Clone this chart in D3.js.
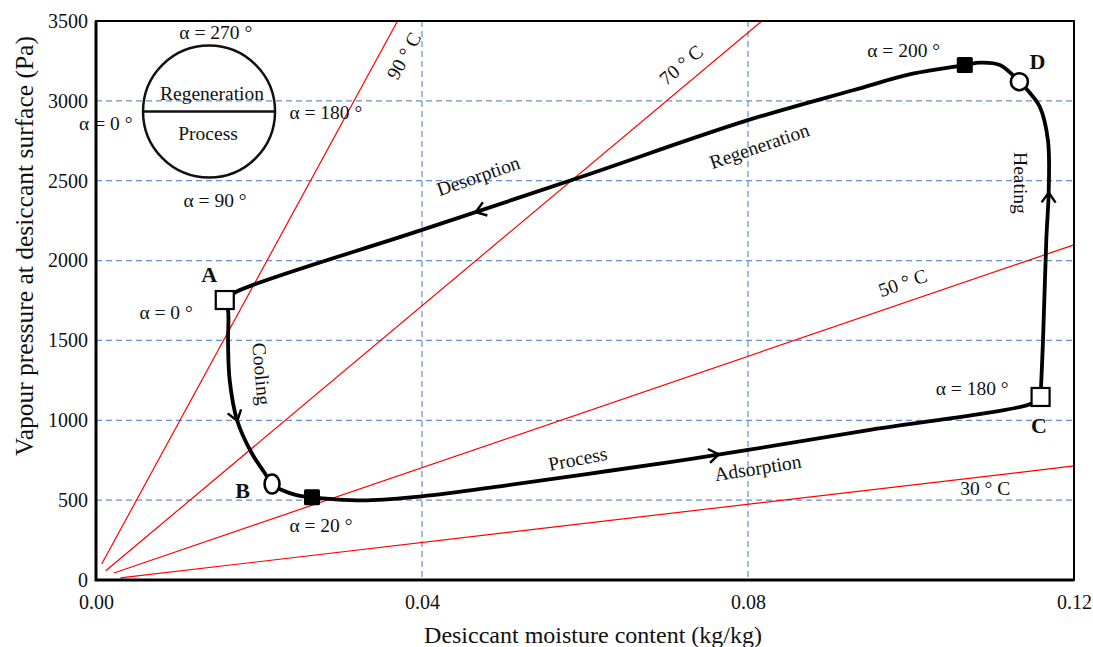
<!DOCTYPE html>
<html>
<head>
<meta charset="utf-8">
<script src="https://cdn.jsdelivr.net/npm/d3@7"></script>
<style>
    body { margin: 0; background: #fff; }
    text { font-family: "Liberation Serif", "Times New Roman", serif; fill: #111; }
</style>
</head>
<body>
<svg id="chart" width="1093" height="647"></svg>
<script>
// axis ticks
const xTicks = [0, 0.04, 0.08, 0.12];
const yTicks = [0, 500, 1000, 1500, 2000, 2500, 3000, 3500];

// isotherm lines [moisture, pressure]
const iso90 = [[0.0007, 100], [0.0370, 3500]];
const iso70 = [[0.0012, 58], [0.0817, 3500]];
const iso50 = [[0.0022, 44], [0.1199, 2097]];
const iso30 = [[0.0030, 13], [0.1200, 714]];

// cycle: A -> B -> C (cooling + process / adsorption)
const legProcess = [
    [0.0158, 1753], [0.0162, 1690], [0.0162, 1492], [0.0164, 1252], [0.0173, 1002],
    [0.0191, 795], [0.0207, 670], [0.0216, 601], [0.0228, 563], [0.0246, 532],
    [0.0265, 518], [0.0291, 506], [0.0332, 499], [0.0400, 524], [0.0500, 590],
    [0.0600, 662], [0.0700, 735], [0.0800, 814], [0.0946, 937], [0.1150, 1108],
    [0.1159, 1146]
];
// cycle: C -> D -> A (heating + regeneration / desorption)
const legRegen = [
    [0.1159, 1146], [0.1162, 1503], [0.1166, 2129], [0.1169, 2442], [0.1168, 2755],
    [0.1158, 2963], [0.1146, 3049], [0.1133, 3120], [0.1109, 3224], [0.1085, 3239],
    [0.1066, 3224], [0.1002, 3170], [0.0930, 3068], [0.0798, 2876], [0.0594, 2522],
    [0.0400, 2192], [0.0171, 1802], [0.0158, 1753]
];

const openSquares = [[0.0158, 1753], [0.1159, 1146]];   // A, C
const filledSquares = [[0.0265, 518], [0.1066, 3224]];
const openCircles = [[0.0216, 601], [0.1133, 3120]];    // B, D
const arrowsProcess = [[0.0173, 1002], [0.0763, 786]];
const arrowsRegen = [[0.1169, 2420], [0.0467, 2306]];

// annotation texts [text, x, y, rotation, bold]
const labels = [
    ["α = 270 °", 0.0147, 3425, 0, false],
    ["α = 0 °", 0.0012, 2861, 0, false],
    ["α = 180 °", 0.0282, 2924, 0, false],
    ["α = 90 °", 0.0146, 2379, 0, false],
    ["A", 0.0139, 1910, 0, true],
    ["α = 0 °", 0.0086, 1672, 0, false],
    ["Cooling", 0.0203, 1290, 85, false],
    ["B", 0.0180, 563, 0, true],
    ["α = 20 °", 0.0276, 344, 0, false],
    ["Process", 0.0591, 758, -11, false],
    ["Adsorption", 0.0812, 701, -9, false],
    ["α = 180 °", 0.1075, 1196, 0, false],
    ["C", 0.1157, 970, 0, true],
    ["30 ° C", 0.1091, 570, 0, false],
    ["50 ° C", 0.0990, 1860, -19, false],
    ["70 ° C", 0.0718, 3224, -40, false],
    ["90 ° C", 0.0378, 3281, -61, false],
    ["Desorption", 0.0469, 2529, -19, false],
    ["Regeneration", 0.0814, 2717, -19, false],
    ["α = 200 °", 0.0991, 3318, 0, false],
    ["D", 0.1155, 3249, 0, true],
    ["Heating", 0.1134, 2486, 90, false]
];

const svg = d3.select("#chart");
const margin = { left: 96, right: 1074, top: 21, bottom: 580 };

const x = d3.scaleLinear().domain([0, 0.12]).range([margin.left, margin.right]);
const y = d3.scaleLinear().domain([0, 3500]).range([margin.bottom, margin.top]);
const plotW = margin.right - margin.left, plotH = margin.bottom - margin.top;

svg.append("clipPath").attr("id", "plotClip")
    .append("rect")
    .attr("x", margin.left).attr("y", margin.top)
    .attr("width", plotW).attr("height", plotH);

// dashed grid
const gridColor = "#6890c8";
svg.append("g").selectAll("line")
    .data(yTicks.filter(d => d > 0 && d < 3500))
    .enter().append("line")
    .attr("x1", margin.left).attr("x2", margin.right)
    .attr("y1", d => y(d)).attr("y2", d => y(d))
    .style("stroke", gridColor)
    .style("stroke-width", 1.2)
    .style("stroke-dasharray", "6,4");

svg.append("g").selectAll("line")
    .data(xTicks.filter(d => d > 0 && d < 0.12))
    .enter().append("line")
    .attr("x1", d => x(d)).attr("x2", d => x(d))
    .attr("y1", margin.top).attr("y2", margin.bottom)
    .style("stroke", gridColor)
    .style("stroke-width", 1.2)
    .style("stroke-dasharray", "6,4");

// isotherms
const line = d3.line().x(d => x(d[0])).y(d => y(d[1]));
svg.append("g").attr("clip-path", "url(#plotClip)")
    .selectAll("path")
    .data([iso90, iso70, iso50, iso30])
    .enter().append("path")
    .attr("d", line)
    .style("fill", "none")
    .style("stroke", "#ff0000")
    .style("stroke-width", 1.2);

// circle diagram (upper left)
const cx = x(0.01387), cy = y(2933), cr = 66;
svg.append("circle")
    .attr("cx", cx).attr("cy", cy).attr("r", cr)
    .style("fill", "none").style("stroke", "#111").style("stroke-width", 2.5);
svg.append("line")
    .attr("x1", cx - cr).attr("x2", cx + cr)
    .attr("y1", cy).attr("y2", cy)
    .style("stroke", "#111").style("stroke-width", 2.5);
svg.append("text").attr("x", cx + 3).attr("y", cy - 18)
    .attr("text-anchor", "middle").attr("dominant-baseline", "central")
    .style("font-size", "19.5px").text("Regeneration");
svg.append("text").attr("x", cx - 1).attr("y", cy + 22)
    .attr("text-anchor", "middle").attr("dominant-baseline", "central")
    .style("font-size", "19.5px").text("Process");

// cycle legs
const curve = d3.line().x(d => x(d[0])).y(d => y(d[1])).curve(d3.curveCatmullRom.alpha(0.5));
svg.append("g").selectAll("path")
    .data([legProcess, legRegen])
    .enter().append("path")
    .attr("d", curve)
    .style("fill", "none")
    .style("stroke", "#000")
    .style("stroke-width", 3.8)
    .style("stroke-linejoin", "round");

// chevron arrows, direction taken from the leg they sit on
function arrowAngle(leg, p) {
    let best = 0, bd = Infinity;
    leg.forEach((q, i) => {
        const dd = Math.hypot(x(q[0]) - x(p[0]), y(q[1]) - y(p[1]));
        if (dd < bd) { bd = dd; best = i; }
    });
    const a = leg[Math.max(0, best - 1)], b = leg[Math.min(leg.length - 1, best + 1)];
    return Math.atan2(y(b[1]) - y(a[1]), x(b[0]) - x(a[0])) * 180 / Math.PI;
}
const arrowData = arrowsProcess.map(p => [p, arrowAngle(legProcess, p)])
    .concat(arrowsRegen.map(p => [p, arrowAngle(legRegen, p)]));
svg.append("g").selectAll("path")
    .data(arrowData)
    .enter().append("path")
    .attr("transform", d => `translate(${x(d[0][0])},${y(d[0][1])}) rotate(${d[1]})`)
    .attr("d", "M-9,-7 L1,0 L-9,7")
    .style("fill", "none")
    .style("stroke", "#000")
    .style("stroke-width", 2.4);

// state markers
svg.append("g").selectAll("rect")
    .data(openSquares)
    .enter().append("rect")
    .attr("x", d => x(d[0]) - 9).attr("y", d => y(d[1]) - 9)
    .attr("width", 18).attr("height", 18)
    .style("fill", "#fff").style("stroke", "#000").style("stroke-width", 2.2);

svg.append("g").selectAll("rect")
    .data(filledSquares)
    .enter().append("rect")
    .attr("x", d => x(d[0]) - 8).attr("y", d => y(d[1]) - 8)
    .attr("width", 16).attr("height", 16).attr("rx", 1.5)
    .style("fill", "#000");

svg.append("g").selectAll("ellipse")
    .data(openCircles)
    .enter().append("ellipse")
    .attr("cx", d => x(d[0])).attr("cy", d => y(d[1]))
    .attr("rx", (d, i) => i === 0 ? 7.5 : 8.5)
    .attr("ry", (d, i) => i === 0 ? 9.5 : 8.5)
    .style("fill", "#fff").style("stroke", "#000").style("stroke-width", 2.6);

// annotations
svg.append("g").selectAll("text")
    .data(labels)
    .enter().append("text")
    .attr("transform", d => `translate(${x(d[1])},${y(d[2])}) rotate(${d[3]})`)
    .attr("text-anchor", "middle")
    .attr("dominant-baseline", "central")
    .style("font-size", d => d[4] ? "22px" : "19.5px")
    .style("font-weight", d => d[4] ? "bold" : "normal")
    .text(d => d[0]);

// frame
svg.append("rect")
    .attr("x", margin.left).attr("y", margin.top)
    .attr("width", plotW).attr("height", plotH)
    .style("fill", "none").style("stroke", "#000").style("stroke-width", 2);
svg.append("path")
    .attr("d", `M${margin.left},${margin.top} V${margin.bottom} H${margin.right}`)
    .style("fill", "none").style("stroke", "#000").style("stroke-width", 3);

// axes
const yAxis = svg.append("g")
    .attr("transform", `translate(${margin.left},0)`)
    .call(d3.axisLeft(y).tickValues(yTicks).tickFormat(d3.format("d")).tickSize(0).tickPadding(8));
const xAxis = svg.append("g")
    .attr("transform", `translate(0,${margin.bottom})`)
    .call(d3.axisBottom(x).tickValues(xTicks).tickFormat(d3.format(".2f")).tickSize(0).tickPadding(15));
[yAxis, xAxis].forEach(g => {
    g.select(".domain").remove();
    g.selectAll("text").style("font-size", "20px").style("font-family", "Liberation Serif").attr("fill", "#111");
});

svg.append("text")
    .attr("x", 593).attr("y", 635)
    .attr("text-anchor", "middle").attr("dominant-baseline", "central")
    .style("font-size", "24px")
    .text("Desiccant moisture content (kg/kg)");

svg.append("text")
    .attr("transform", "translate(24,246) rotate(-90)")
    .attr("text-anchor", "middle").attr("dominant-baseline", "central")
    .style("font-size", "25.5px")
    .text("Vapour pressure at desiccant surface (Pa)");
</script>
</body>
</html>
